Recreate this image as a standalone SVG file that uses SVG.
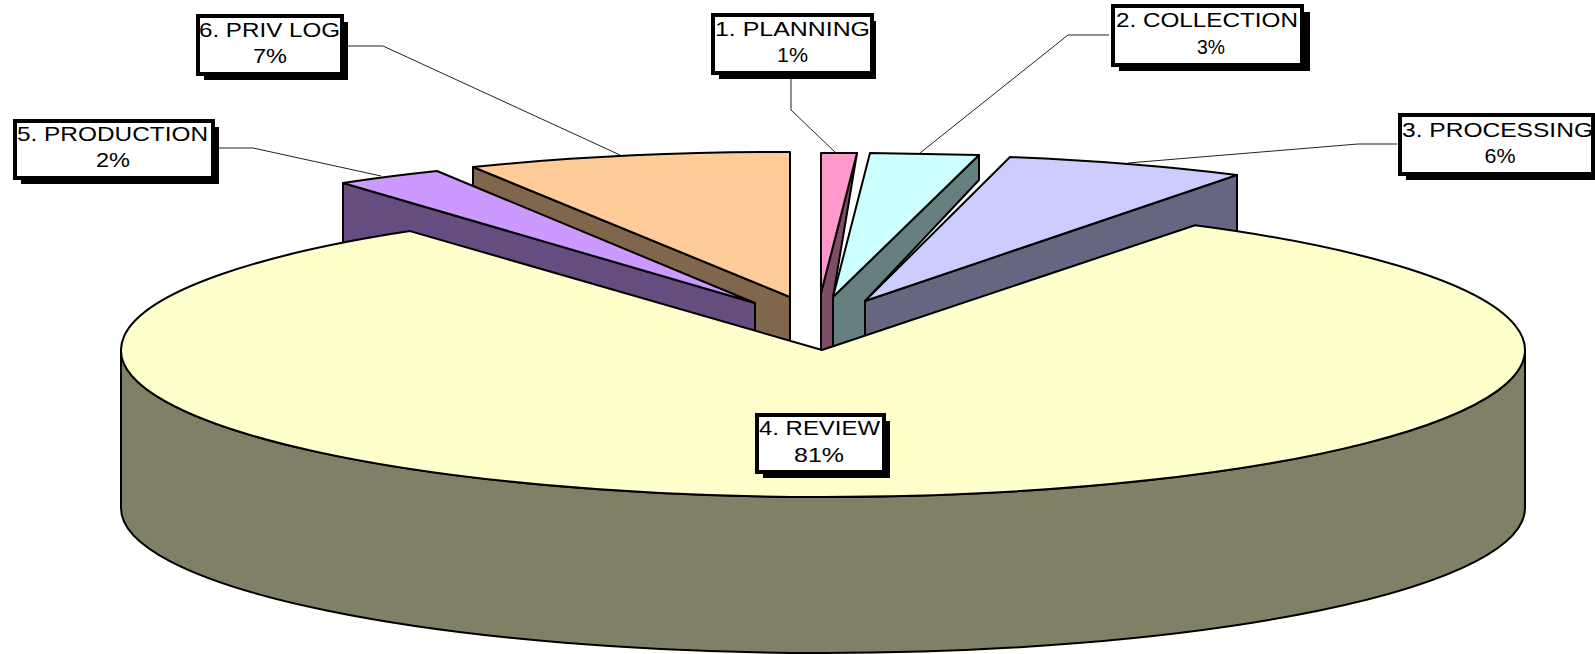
<svg xmlns="http://www.w3.org/2000/svg" width="1595" height="654" viewBox="0 0 1595 654">
  <style>
    .pie { stroke: #000; stroke-width: 2; stroke-linejoin: round; }
    .lead { fill: none; stroke: #222; stroke-width: 1; }
    .shadow { fill: #000; }
    .box { fill: #fff; stroke: #000; stroke-width: 4; }
    .lbl { font-family: "Liberation Sans", Arial, sans-serif; font-size: 21px; fill: #000; }
  </style>
  <rect width="1595" height="654" fill="#fff"/>

  <!-- 6. PRIV LOG slice -->
  <g id="slice-privlog">
    <path class="pie" fill="#80664D" d="M473,167 L790,297 L790,345 L473,232 Z"/>
    <path class="pie" fill="#FFCC99" d="M473,167 A703,145 0 0 1 790,152 L790,297 Z"/>
  </g>

  <!-- 5. PRODUCTION slice -->
  <g id="slice-production">
    <path class="pie" fill="#664D80" d="M343,183 L755,303 L755,345 L343,262 Z"/>
    <path class="pie" fill="#CC99FF" d="M343,183 A703,145 0 0 1 437,171 L755,303 Z"/>
  </g>

  <!-- 1. PLANNING slice -->
  <g id="slice-planning">
    <path class="pie" fill="#804D66" d="M857,153 L821,293 L821,352 L833,352 L833,297 Z"/>
    <path class="pie" fill="#FF99CC" d="M821,153 L857,153 L821,293 Z"/>
  </g>

  <!-- 2. COLLECTION slice -->
  <g id="slice-collection">
    <path class="pie" fill="#668080" d="M979,155 L833,297 L833,352 L865,352 L865,301 L979,180 Z"/>
    <path class="pie" fill="#CCFFFF" d="M870,153 L979,155 L833,297 Z"/>
  </g>

  <!-- 3. PROCESSING slice -->
  <g id="slice-processing">
    <path class="pie" fill="#666680" d="M1237,175 L865,301 L865,352 L1237,242 Z"/>
    <path class="pie" fill="#CCCCFF" d="M1010,157 A703,145 0 0 1 1237,175 L865,301 Z"/>
  </g>

  <!-- 4. REVIEW slice -->
  <g id="slice-review">
    <path class="pie" fill="#808066" d="M121,350 A702,147 0 0 0 1525,350 L1525,508 A702,145 0 0 1 121,508 Z"/>
    <path class="pie" fill="#FFFFCC" d="M822,350 L1195,225.3 A702,147 0 1 1 410,231.1 Z"/>
  </g>

  <!-- leader lines -->
  <g id="connectors">
    <polyline class="lead" points="791,75 791,110 836,153"/>
    <polyline class="lead" points="1109,35 1068,35 920,153"/>
    <polyline class="lead" points="1397,144 1358,144 1128,163"/>
    <polyline class="lead" points="213,148 253,148 381,176"/>
    <polyline class="lead" points="345,46 383,46 620,155"/>
  </g>

  <!-- labels -->
  <g id="label-planning">
    <rect class="shadow" x="719" y="21" width="157" height="58"/>
    <rect class="box" x="713" y="15" width="159" height="58"/>
    <text class="lbl" x="715" y="36" textLength="155" lengthAdjust="spacingAndGlyphs">1. PLANNING</text>
    <text class="lbl" x="792.5" y="62" text-anchor="middle" textLength="31" lengthAdjust="spacingAndGlyphs">1%</text>
  </g>

  <g id="label-collection">
    <rect class="shadow" x="1119" y="12" width="191" height="59"/>
    <rect class="box" x="1113" y="6" width="189" height="59"/>
    <text class="lbl" x="1116" y="27.3" textLength="182" lengthAdjust="spacingAndGlyphs">2. COLLECTION</text>
    <text class="lbl" x="1211" y="54" text-anchor="middle" textLength="28" lengthAdjust="spacingAndGlyphs">3%</text>
  </g>

  <g id="label-processing">
    <rect class="shadow" x="1406" y="121" width="193" height="59"/>
    <rect class="box" x="1400" y="115" width="193" height="59"/>
    <text class="lbl" x="1402" y="136.7" textLength="191" lengthAdjust="spacingAndGlyphs">3. PROCESSING</text>
    <text class="lbl" x="1500" y="162.7" text-anchor="middle" textLength="31" lengthAdjust="spacingAndGlyphs">6%</text>
  </g>

  <g id="label-review">
    <rect class="shadow" x="763" y="421" width="127" height="57"/>
    <rect class="box" x="757" y="415" width="127" height="57"/>
    <text class="lbl" x="759" y="435" textLength="121" lengthAdjust="spacingAndGlyphs">4. REVIEW</text>
    <text class="lbl" x="819" y="461.7" text-anchor="middle" textLength="50" lengthAdjust="spacingAndGlyphs">81%</text>
  </g>

  <g id="label-production">
    <rect class="shadow" x="21" y="127" width="198" height="57"/>
    <rect class="box" x="15" y="121" width="198" height="57"/>
    <text class="lbl" x="17" y="140.7" textLength="191" lengthAdjust="spacingAndGlyphs">5. PRODUCTION</text>
    <text class="lbl" x="113" y="166.7" text-anchor="middle" textLength="34" lengthAdjust="spacingAndGlyphs">2%</text>
  </g>

  <g id="label-privlog">
    <rect class="shadow" x="204" y="22" width="144" height="58"/>
    <rect class="box" x="198" y="16" width="144" height="58"/>
    <text class="lbl" x="199" y="37" textLength="141" lengthAdjust="spacingAndGlyphs">6. PRIV LOG</text>
    <text class="lbl" x="270" y="63.3" text-anchor="middle" textLength="34" lengthAdjust="spacingAndGlyphs">7%</text>
  </g>
</svg>
